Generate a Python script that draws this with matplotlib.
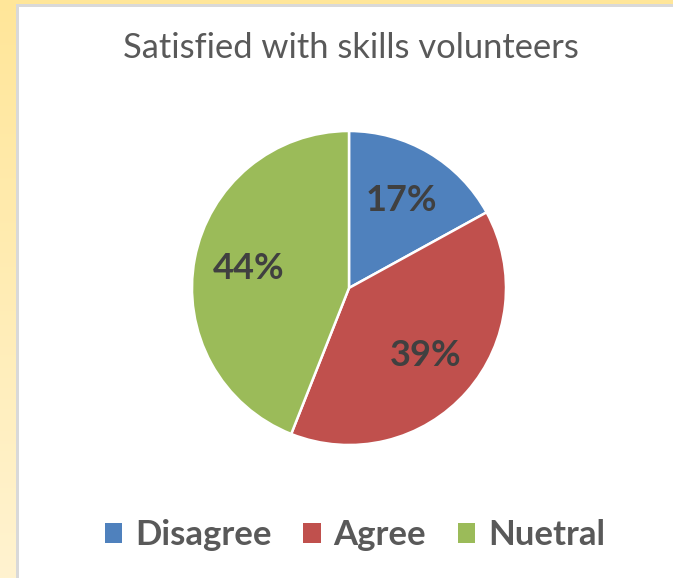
import matplotlib.pyplot as plt
from matplotlib.patches import Rectangle, Patch
import numpy as np

# data
labels = ['Disagree', 'Agree', 'Nuetral']
values = [17, 39, 44]
colors = ['#4F81BD', '#C0504D', '#9BBB59']
title = 'Satisfied with skills volunteers'

plt.rcParams['font.family'] = ['Lato', 'DejaVu Sans']

W, H = 673, 578
fig = plt.figure(figsize=(W / 100, H / 100), dpi=100)
fig.patch.set_facecolor('white')

# yellow frame on the left / top
grad = np.linspace(0, 1, 256).reshape(-1, 1)
bg = fig.add_axes([0, 0, 1, 1], zorder=-5)
bg.axis('off')
bg.imshow(grad, extent=[0, 16, H, 0], aspect='auto',
          cmap=plt.matplotlib.colors.LinearSegmentedColormap.from_list('y', ['#FFE699', '#FFF3D0']))
bg.add_patch(Rectangle((0, 0), W, 4, color='#FFE699', lw=0))
bg.add_patch(Rectangle((16, 4), 2.5, H, color='#D9D9D9', lw=0))
bg.add_patch(Rectangle((16, 4), W, 2.5, color='#D9D9D9', lw=0))
bg.set_xlim(0, W)
bg.set_ylim(H, 0)

# pie
cx, cy, r = 349, 288, 157
ax = fig.add_axes([(cx - r) / W, 1 - (cy + r) / H, 2 * r / W, 2 * r / H])
wedges, texts, autotexts = ax.pie(
    values, colors=colors, startangle=90, counterclock=False,
    autopct='%1.0f%%', pctdistance=0.65, radius=1,
    wedgeprops=dict(edgecolor='white', linewidth=1.8),
    textprops=dict(fontsize=26, fontweight='bold', color='#404040'))
ax.set_xlim(-1, 1)
ax.set_ylim(-1, 1)
ax.set_aspect('equal')

fig.text(351 / W, 1 - 48 / H, title, ha='center', va='center',
         fontsize=24.8, color='#595959')

handles = [Patch(facecolor=c, edgecolor='none') for c in colors]
fig.legend(handles, labels, loc='center', bbox_to_anchor=(355 / W, 1 - 535 / H),
           ncol=3, frameon=False, handlelength=0.5, handleheight=0.5,
           handletextpad=0.37, columnspacing=0.92,
           prop=dict(size=25, weight='bold'), labelcolor='#595959')

fig.savefig('out.png', dpi=100, facecolor='white')
